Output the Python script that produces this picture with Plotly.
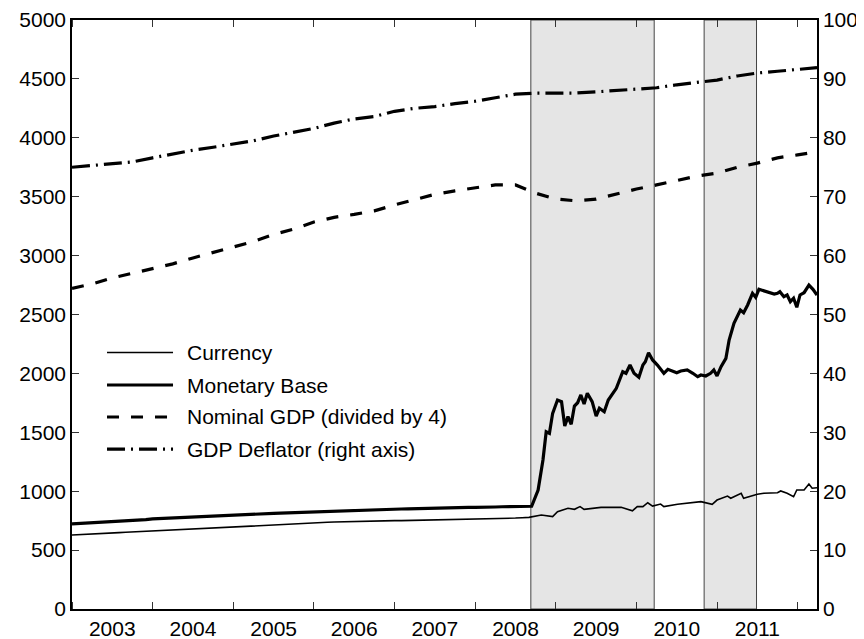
from datetime import datetime, timedelta

import plotly.graph_objects as go

# ---- data (billions of dollars; deflator is an index on the right axis) ----
quarter_t = [2003.0, 2003.25, 2003.5, 2003.75, 2004.0, 2004.25, 2004.5, 2004.75,
             2005.0, 2005.25, 2005.5, 2005.75, 2006.0, 2006.25, 2006.5, 2006.75,
             2007.0, 2007.25, 2007.5, 2007.75, 2008.0, 2008.25, 2008.5, 2008.75,
             2009.0, 2009.25, 2009.5, 2009.75, 2010.0, 2010.25, 2010.5, 2010.75,
             2011.0, 2011.25, 2011.5, 2011.75, 2012.0, 2012.24]

gdp_div4 = [2722, 2760, 2810, 2850, 2885, 2930, 2980, 3025,
            3075, 3120, 3180, 3225, 3285, 3325, 3350, 3380,
            3430, 3475, 3520, 3550, 3575, 3600, 3600, 3530,
            3480, 3465, 3480, 3525, 3565, 3600, 3640, 3675,
            3700, 3750, 3785, 3830, 3855, 3880]

gdp_deflator = [75.0, 75.3, 75.6, 75.9, 76.6, 77.3, 77.9, 78.4,
                78.9, 79.5, 80.3, 80.9, 81.6, 82.5, 83.2, 83.6,
                84.5, 85.0, 85.3, 85.8, 86.2, 86.8, 87.4, 87.6,
                87.6, 87.6, 87.8, 88.0, 88.2, 88.5, 89.0, 89.4,
                89.8, 90.5, 91.0, 91.3, 91.6, 91.9]

# monthly, Jan 2003 .. Sep 2008
base_monthly = [722, 725, 728, 731, 735, 738, 741, 744, 747, 750, 754, 758,
                765, 768, 770, 773, 776, 779, 782, 784, 787, 790, 793, 797,
                799, 801, 803, 806, 808, 810, 812, 814, 816, 818, 822, 825,
                829, 832, 834, 836, 838, 839, 840, 842, 843, 845, 847, 848,
                849, 849, 850, 852, 853, 854, 855, 856, 857, 858, 860, 862,
                863, 862, 864, 866, 868, 870, 871, 872, 870]
currency_monthly = [628, 630, 633, 636, 639, 642, 645, 648, 651, 654, 657, 660,
                    661, 663, 666, 670, 674, 678, 682, 685, 688, 691, 694, 697,
                    699, 701, 703, 706, 709, 712, 715, 718, 720, 722, 725, 729,
                    732, 734, 736, 738, 740, 741, 742, 744, 745, 747, 748, 749,
                    750, 750, 751, 752, 753, 754, 755, 756, 757, 758, 759, 761,
                    762, 762, 764, 766, 768, 770, 772, 775, 778]

# weekly-ish after the Lehman collapse
base_late_t = [2008.70, 2008.78, 2008.84, 2008.88, 2008.92, 2008.96, 2009.02, 2009.07,
               2009.11, 2009.15, 2009.19, 2009.23, 2009.27, 2009.31, 2009.35, 2009.39,
               2009.45, 2009.50, 2009.54, 2009.60, 2009.65, 2009.75, 2009.83, 2009.87,
               2009.92, 2009.97, 2010.03, 2010.08, 2010.11, 2010.15, 2010.20, 2010.26,
               2010.34, 2010.39, 2010.45, 2010.50, 2010.55, 2010.63, 2010.70, 2010.76,
               2010.80, 2010.86, 2010.92, 2010.96, 2011.00, 2011.05, 2011.11, 2011.15,
               2011.21, 2011.25, 2011.29, 2011.33, 2011.38, 2011.44, 2011.48, 2011.52,
               2011.58, 2011.64, 2011.71, 2011.75, 2011.78, 2011.83, 2011.87, 2011.91,
               2011.95, 2011.99, 2012.03, 2012.08, 2012.14, 2012.19, 2012.24]
base_late = [872, 1010, 1265, 1505, 1491, 1661, 1774, 1760,
             1553, 1633, 1568, 1723, 1751, 1817, 1740, 1831,
             1760, 1638, 1704, 1675, 1774, 1873, 2014, 2001,
             2071, 2001, 1967, 2071, 2099, 2176, 2114, 2071,
             2001, 2035, 2023, 2006, 2020, 2029, 2001, 1972,
             1986, 1978, 2001, 2029, 1978, 2057, 2128, 2283,
             2425, 2481, 2538, 2515, 2581, 2680, 2646, 2714,
             2702, 2685, 2674, 2680, 2694, 2651, 2666, 2609,
             2638, 2561, 2666, 2685, 2750, 2714, 2666]

currency_late_t = [2008.82, 2008.96, 2009.02, 2009.15, 2009.23, 2009.30, 2009.35, 2009.56,
                   2009.81, 2009.95, 2010.01, 2010.08, 2010.14, 2010.20, 2010.30, 2010.34,
                   2010.51, 2010.63, 2010.80, 2010.94, 2011.00, 2011.13, 2011.17, 2011.30,
                   2011.33, 2011.50, 2011.58, 2011.75, 2011.79, 2011.87, 2011.95, 2011.99,
                   2012.08, 2012.14, 2012.18, 2012.24]
currency_late = [798, 784, 826, 855, 846, 869, 846, 863,
                 863, 834, 869, 869, 902, 874, 891, 869,
                 889, 897, 911, 889, 925, 959, 940, 982,
                 940, 974, 982, 987, 1002, 982, 953, 1010,
                 1010, 1061, 1025, 1030]

qe_periods = [(2008.69, 2010.22), (2010.84, 2011.49)]
x_range = (2003.0, 2012.24)


def to_date(t):
    """decimal year -> datetime"""
    year = int(t)
    start = datetime(year, 1, 1)
    length = (datetime(year + 1, 1, 1) - start).days
    return start + timedelta(days=(t - year) * length)


def dates(ts):
    return [to_date(t) for t in ts]


month_t = [2003 + m / 12 for m in range(len(base_monthly))]
base_t = month_t + base_late_t
base = base_monthly + base_late
currency_t = month_t + currency_late_t
currency = currency_monthly + currency_late

FONT = 'Liberation Sans, Arial, sans-serif'
FSIZE = 21
GDP_DASH = '12px,12px'
DEFL_DASH = '18px,6px,2px,6px'

fig = go.Figure()

for x0, x1 in qe_periods:
    fig.add_vrect(x0=to_date(x0), x1=to_date(x1), fillcolor='#e5e5e5', opacity=1,
                  layer='below', line=dict(color='#444444', width=1))

fig.add_trace(go.Scatter(x=dates(currency_t), y=currency, mode='lines',
                         line=dict(color='black', width=1.6), name='Currency'))
fig.add_trace(go.Scatter(x=dates(base_t), y=base, mode='lines',
                         line=dict(color='black', width=3.2), name='Monetary Base'))
fig.add_trace(go.Scatter(x=dates(quarter_t), y=gdp_div4, mode='lines',
                         line=dict(color='black', width=3.2, dash=GDP_DASH),
                         name='Nominal GDP (divided by 4)'))
fig.add_trace(go.Scatter(x=dates(quarter_t), y=gdp_deflator, mode='lines', yaxis='y2',
                         line=dict(color='black', width=3.2, dash=DEFL_DASH),
                         name='GDP Deflator (right axis)'))

# hand-drawn legend (longer line samples than plotly's native legend)
legend_items = [('Currency', 1.6, 'solid'), ('Monetary Base', 3.2, 'solid'),
                ('Nominal GDP (divided by 4)', 3.2, GDP_DASH),
                ('GDP Deflator (right axis)', 3.2, DEFL_DASH)]
row_y = [0.4355, 0.3803, 0.3260, 0.2716]
for (label, w, dash), yy in zip(legend_items, row_y):
    fig.add_shape(type='line', xref='paper', yref='paper', x0=0.047, x1=0.1356,
                  y0=yy, y1=yy, line=dict(color='black', width=w, dash=dash))
    fig.add_annotation(text=label, xref='paper', yref='paper', x=0.1517, y=yy,
                       xanchor='left', yanchor='middle', showarrow=False,
                       font=dict(family=FONT, size=FSIZE, color='black'))

axis_common = dict(showline=True, linecolor='black', linewidth=1.5, showgrid=False,
                   zeroline=False, automargin=False, ticks='inside', ticklen=7,
                   tickwidth=1.2, tickcolor='#333333', layer='above traces',
                   tickfont=dict(family=FONT, size=FSIZE, color='black'))

# the page body adds an 8px offset, so the figure is 8px smaller than the window
fig.update_layout(
    width=856, height=631,
    margin=dict(l=64, r=47, t=12, b=30),
    plot_bgcolor='white', paper_bgcolor='white',
    showlegend=False,
    xaxis=dict(type='date', range=[to_date(x_range[0]), to_date(x_range[1])],
               tick0='2003-01-01', dtick='M12', tickformat='%Y',
               ticklabelmode='period', mirror='ticks', **axis_common),
    yaxis=dict(range=[0, 5000], dtick=500, **axis_common),
    yaxis2=dict(range=[0, 100], dtick=10, overlaying='y', side='right', **axis_common),
)

fig.write_html('out.html')
